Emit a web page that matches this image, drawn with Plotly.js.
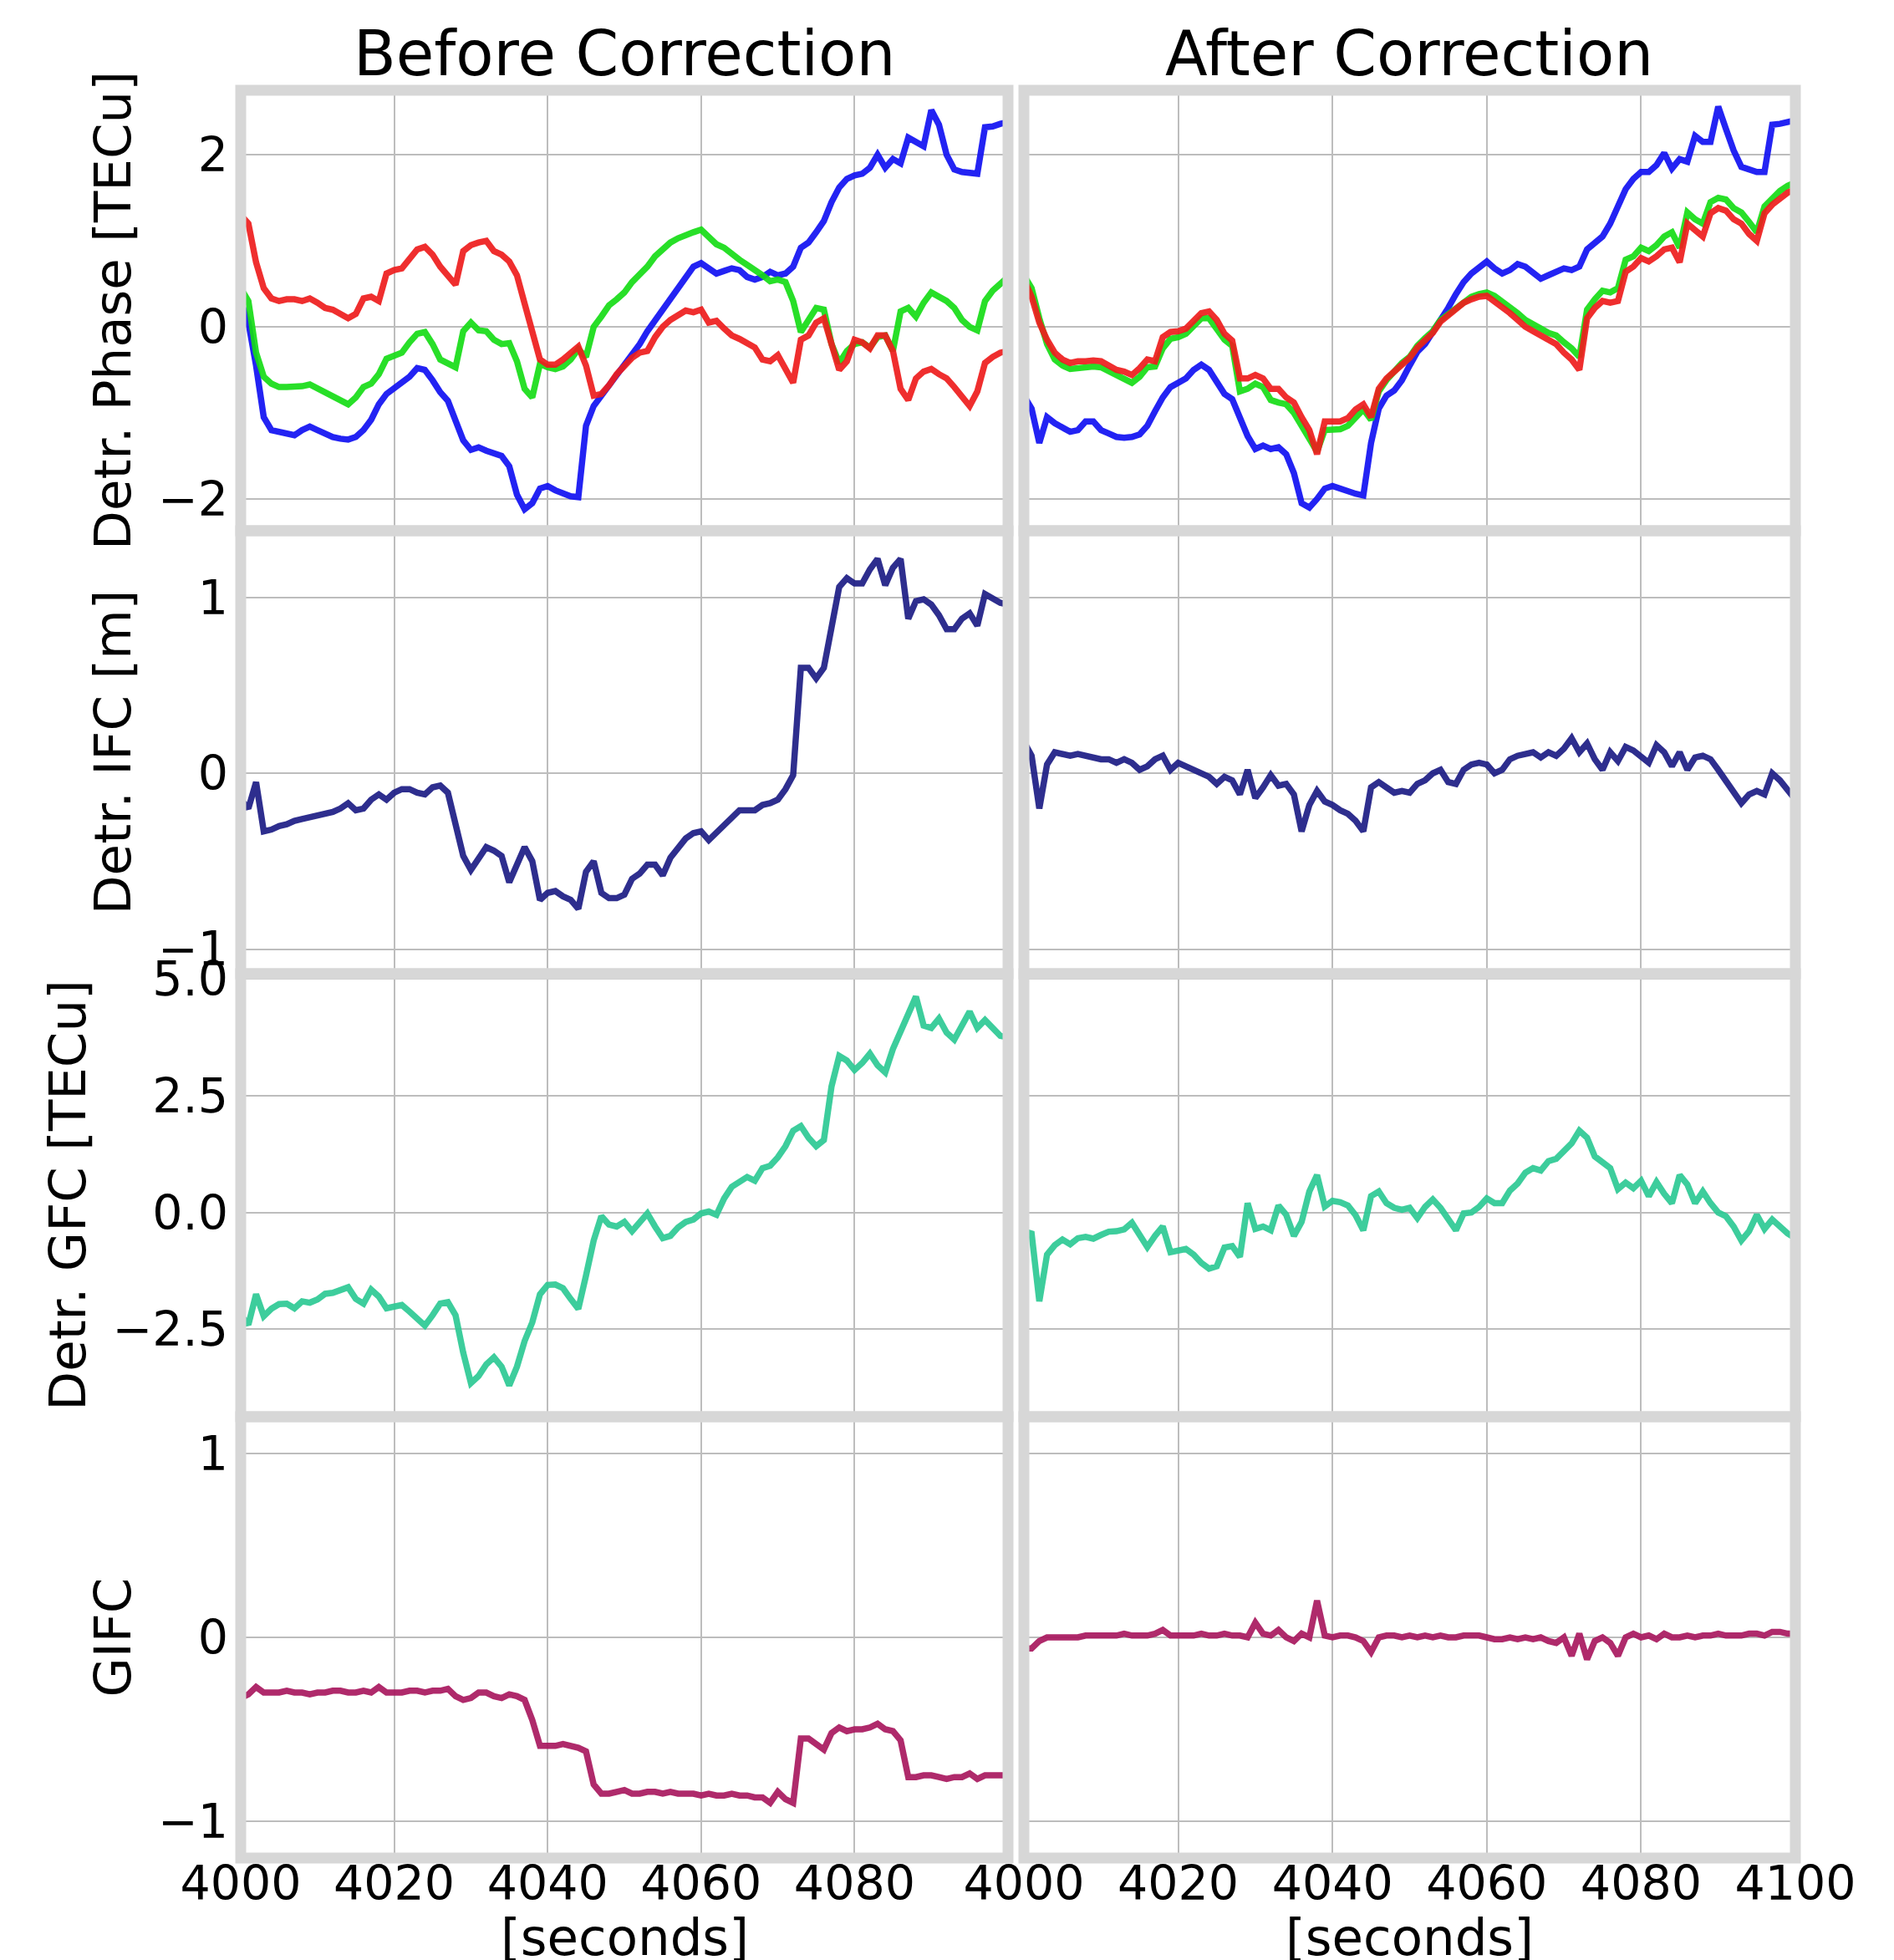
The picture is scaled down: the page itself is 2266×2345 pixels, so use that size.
<!DOCTYPE html>
<html>
<head>
<meta charset="utf-8">
<script src="https://cdn.plot.ly/plotly-3.0.1.min.js"></script>
<style>
  html, body { margin: 0; padding: 0; background: #ffffff; }
  #chart { width: 2266px; height: 2345px; }
</style>
</head>
<body>
<div id="chart"></div>
<script>
// Sampling: one value per second, starting at t = 4000 s.
const timeStart = 4000;
const timeStep = 1;

// Tick marks
const timeTicks = [4000, 4020, 4040, 4060, 4080, 4100];
const timeTickLabelsLeft = ['4000', '4020', '4040', '4060', '4080', ''];
const timeTickLabelsRight = ['4000', '4020', '4040', '4060', '4080', '4100'];
const phaseTicks = [-2, 0, 2];
const ifcTicks = [-1, 0, 1];
const gfcTicks = [-2.5, 0, 2.5, 5];
const gifcTicks = [-1, 0, 1];

// Detrended carrier phase [TECu], before correction
const phaseBeforeBlue = [
  0.3, 0.05, -0.45, -1.05, -1.2, -1.22, -1.25, -1.26, -1.2, -1.16,
  -1.2, -1.24, -1.28, -1.3, -1.31, -1.28, -1.2, -1.08, -0.9, -0.78,
  -0.72, -0.66, -0.58, -0.48, -0.5, -0.62, -0.76, -0.86, -1.1, -1.32,
  -1.43, -1.4, -1.44, -1.47, -1.5, -1.62, -1.95, -2.12, -2.05, -1.88,
  -1.85, -1.9, -1.93, -1.97, -1.98, -1.15, -0.92, -0.8, -0.7, -0.57,
  -0.45, -0.33, -0.2, -0.05, 0.08, 0.2, 0.32, 0.45, 0.6, 0.7,
  0.74, 0.68, 0.62, 0.65, 0.68, 0.66, 0.58, 0.55, 0.58, 0.64,
  0.6, 0.62, 0.7, 0.92, 0.98, 1.1, 1.23, 1.45, 1.62, 1.72,
  1.76, 1.78, 1.85, 2.0, 1.85, 1.95, 1.9, 2.2, 2.15, 2.1,
  2.52, 2.35, 2.0, 1.83, 1.8, 1.79, 1.78, 2.32, 2.33, 2.36,
  2.38
];
const phaseBeforeGreen = [
  0.45, 0.3, -0.3, -0.58, -0.66, -0.7, -0.7, -0.7, -0.69, -0.67,
  -0.72, -0.76, -0.8, -0.85, -0.9, -0.82, -0.7, -0.66, -0.55, -0.37,
  -0.33, -0.3, -0.18, -0.08, -0.06, -0.2, -0.38, -0.43, -0.47, -0.05,
  0.05, -0.04, -0.05, -0.15, -0.2, -0.19, -0.4, -0.72, -0.82, -0.43,
  -0.47, -0.49, -0.46, -0.38, -0.26, -0.35, 0.0, 0.12, 0.25, 0.32,
  0.4, 0.52, 0.6, 0.7, 0.82, 0.9, 0.98, 1.03, 1.07, 1.1,
  1.13, 1.05, 0.96, 0.92, 0.84, 0.78, 0.72, 0.67, 0.6, 0.53,
  0.55, 0.52, 0.3, -0.06, 0.08, 0.22, 0.2, -0.2, -0.42, -0.28,
  -0.2, -0.18, -0.24, -0.12, -0.1, -0.28, 0.18, 0.22, 0.12, 0.28,
  0.4, 0.35, 0.3, 0.22, 0.08, 0.0, -0.04, 0.3, 0.42, 0.5,
  0.58
];
const phaseBeforeRed = [
  1.3, 1.2, 0.75, 0.45, 0.33, 0.3, 0.32, 0.32, 0.3, 0.33,
  0.28, 0.22, 0.2, 0.16, 0.1, 0.15, 0.33, 0.35, 0.3, 0.62,
  0.66, 0.68, 0.78, 0.9, 0.93, 0.84, 0.7, 0.58, 0.49, 0.88,
  0.95, 0.98, 1.0, 0.88, 0.84, 0.76, 0.6, 0.27, -0.05, -0.38,
  -0.44, -0.44, -0.38, -0.3, -0.23, -0.45, -0.8, -0.78, -0.68, -0.55,
  -0.45, -0.36, -0.3, -0.28, -0.12, 0.0, 0.08, 0.14, 0.19, 0.17,
  0.2, 0.05, 0.07, -0.02, -0.1, -0.14, -0.2, -0.24, -0.38, -0.4,
  -0.33, -0.48, -0.65, -0.15, -0.1, 0.05, 0.1, -0.2, -0.5, -0.4,
  -0.15, -0.18, -0.25, -0.1, -0.1, -0.28, -0.72, -0.85, -0.6, -0.52,
  -0.49, -0.55, -0.6, -0.7, -0.8, -0.92, -0.75, -0.42, -0.35, -0.3,
  -0.28
];

// Detrended carrier phase [TECu], after correction
const phaseAfterBlue = [
  -0.8, -0.95, -1.35, -1.05, -1.12, -1.18, -1.22, -1.2, -1.1, -1.1,
  -1.2, -1.24, -1.28, -1.29, -1.28, -1.25, -1.15, -0.98, -0.82, -0.7,
  -0.65, -0.6, -0.5, -0.44, -0.5, -0.65, -0.78, -0.84, -1.05, -1.27,
  -1.42, -1.38, -1.42, -1.4, -1.48, -1.7, -2.05, -2.1, -2.0, -1.88,
  -1.85, -1.88, -1.92, -1.94, -1.96, -1.35, -0.95, -0.8, -0.74, -0.62,
  -0.45, -0.29, -0.2, -0.06, 0.05, 0.22, 0.38, 0.52, 0.62, 0.7,
  0.76, 0.68, 0.62, 0.66, 0.73, 0.7, 0.63, 0.56, 0.6, 0.65,
  0.68, 0.66, 0.7, 0.9, 0.97, 1.05, 1.2, 1.4, 1.6, 1.72,
  1.8, 1.8, 1.88, 2.02, 1.84, 1.95, 1.92, 2.22, 2.15, 2.15,
  2.56, 2.3, 2.05, 1.86, 1.82, 1.8, 1.8, 2.35, 2.36, 2.38,
  2.4
];
const phaseAfterGreen = [
  0.6, 0.45, 0.1, -0.2, -0.38, -0.45, -0.49, -0.48, -0.46, -0.46,
  -0.47, -0.52, -0.57, -0.6, -0.65, -0.58, -0.47, -0.46, -0.25, -0.14,
  -0.12, -0.08, 0.0, 0.1, 0.1, -0.02, -0.15, -0.22, -0.75, -0.72,
  -0.66, -0.7, -0.85, -0.88, -0.9, -1.0, -1.15, -1.3, -1.45, -1.2,
  -1.2, -1.19, -1.15, -1.05, -0.96, -1.08, -0.75, -0.62, -0.52, -0.42,
  -0.35, -0.22, -0.13, -0.05, 0.08, 0.15, 0.22, 0.3, 0.35, 0.38,
  0.4, 0.36, 0.3, 0.24, 0.16, 0.08, 0.02, -0.02, -0.07, -0.1,
  -0.18, -0.25, -0.35, 0.2, 0.32, 0.42, 0.4, 0.45, 0.78, 0.82,
  0.92, 0.88, 0.95, 1.05, 1.1, 0.92, 1.33, 1.25, 1.2, 1.45,
  1.5, 1.48, 1.38, 1.33, 1.22, 1.1, 1.4, 1.5, 1.58, 1.64,
  1.68
];
const phaseAfterRed = [
  0.55, 0.35, 0.05, -0.15, -0.3, -0.38, -0.42, -0.4, -0.4, -0.39,
  -0.4, -0.45, -0.5, -0.52, -0.56, -0.48, -0.38, -0.4, -0.12, -0.06,
  -0.05, -0.02, 0.06, 0.16, 0.18, 0.08, -0.08, -0.16, -0.6, -0.6,
  -0.56, -0.6, -0.72, -0.72, -0.82, -0.88, -1.05, -1.2, -1.48, -1.1,
  -1.1, -1.1, -1.06, -0.96, -0.9, -1.05, -0.72, -0.6, -0.52, -0.44,
  -0.36, -0.24, -0.15, -0.07, 0.06, 0.14, 0.2, 0.28, 0.32, 0.35,
  0.36, 0.3, 0.22, 0.16, 0.08, 0.0, -0.05, -0.1, -0.14, -0.2,
  -0.3, -0.38, -0.5, 0.1, 0.22, 0.3, 0.28, 0.3, 0.64, 0.7,
  0.8, 0.76, 0.82, 0.9, 0.92, 0.75, 1.2, 1.12, 1.05, 1.32,
  1.38, 1.35, 1.25, 1.2, 1.08, 1.0, 1.32, 1.42, 1.5, 1.56,
  1.6
];

// Detrended ionosphere-free combination [m]
const ifcBefore = [
  -0.15, -0.2, -0.05, -0.33, -0.32, -0.3, -0.29, -0.27, -0.26, -0.25,
  -0.24, -0.23, -0.22, -0.2, -0.17, -0.21, -0.2, -0.15, -0.12, -0.15,
  -0.11, -0.09, -0.09, -0.11, -0.12, -0.08, -0.07, -0.11, -0.28, -0.47,
  -0.55, -0.48, -0.42, -0.44, -0.47, -0.62, -0.52, -0.42, -0.5, -0.72,
  -0.68, -0.67, -0.7, -0.72, -0.77, -0.56, -0.5, -0.68, -0.71, -0.71,
  -0.69, -0.6, -0.57, -0.52, -0.52, -0.58, -0.48, -0.42, -0.37, -0.34,
  -0.33, -0.38, -0.34, -0.3, -0.26, -0.21, -0.21, -0.21, -0.18, -0.17,
  -0.15, -0.09, -0.01, 0.6, 0.6, 0.54, 0.6, 0.82, 1.06, 1.11,
  1.08, 1.08, 1.16, 1.22, 1.07, 1.17, 1.22, 0.88, 0.98, 0.99,
  0.96, 0.9, 0.82, 0.82, 0.88, 0.91, 0.84, 1.02, 0.99, 0.97,
  0.96
];
const ifcAfter = [
  0.18, 0.1, -0.2, 0.05, 0.12, 0.11, 0.1, 0.11, 0.1, 0.09,
  0.08, 0.08, 0.06, 0.08, 0.06, 0.02, 0.04, 0.08, 0.1, 0.02,
  0.06, 0.04, 0.02, 0.0, -0.02, -0.06, -0.02, -0.04, -0.12, 0.02,
  -0.14, -0.08, -0.01, -0.07, -0.06, -0.12, -0.33, -0.18, -0.1, -0.16,
  -0.18, -0.21, -0.23, -0.27, -0.33, -0.08, -0.05, -0.08, -0.11, -0.1,
  -0.11, -0.06, -0.04, 0.0, 0.02, -0.05, -0.06, 0.02, 0.05, 0.06,
  0.05, 0.0, 0.02, 0.08, 0.1, 0.11, 0.12, 0.09, 0.12, 0.1,
  0.14, 0.2, 0.12, 0.17, 0.08, 0.02, 0.12, 0.07, 0.15, 0.13,
  0.1, 0.06, 0.16, 0.12, 0.04, 0.12, 0.02, 0.09, 0.1, 0.08,
  0.02, -0.04, -0.1, -0.17, -0.12, -0.1, -0.12, 0.0, -0.04, -0.1,
  -0.15
];

// Detrended geometry-free combination [TECu]
const gfcBefore = [
  -2.2, -2.4, -1.75, -2.22, -2.06, -1.96, -1.95, -2.05, -1.9, -1.93,
  -1.86, -1.74, -1.72, -1.66, -1.6, -1.85, -1.95, -1.65, -1.8, -2.05,
  -2.0, -1.98, -2.12, -2.28, -2.42, -2.2, -1.95, -1.92, -2.2, -3.0,
  -3.65, -3.5, -3.25, -3.1, -3.3, -3.7, -3.3, -2.75, -2.35, -1.75,
  -1.55, -1.54, -1.62, -1.85, -2.06, -1.35, -0.6, -0.08, -0.26, -0.3,
  -0.2, -0.4, -0.22, -0.02, -0.3, -0.55, -0.5, -0.32, -0.2, -0.15,
  -0.02, 0.02, -0.05, 0.3, 0.55, 0.66, 0.76, 0.68, 0.95, 1.0,
  1.18, 1.42, 1.75, 1.85, 1.6, 1.42, 1.55, 2.7, 3.35, 3.25,
  3.05, 3.2, 3.4, 3.15, 3.0, 3.5, 3.85, 4.2, 4.62, 4.0,
  3.95, 4.15, 3.85, 3.7, 4.0, 4.3, 3.95, 4.12, 3.95, 3.78,
  3.75
];
const gfcAfter = [
  -0.4, -0.45, -1.9, -0.9, -0.7, -0.58, -0.68, -0.55, -0.52, -0.56,
  -0.48, -0.41, -0.4, -0.36, -0.22, -0.5, -0.74, -0.5, -0.3, -0.85,
  -0.8, -0.78, -0.9, -1.08, -1.2, -1.15, -0.75, -0.72, -0.95, 0.2,
  -0.35, -0.3, -0.38, 0.15, -0.05, -0.5, -0.2, 0.45, 0.8, 0.13,
  0.25, 0.22, 0.15, -0.06, -0.38, 0.35, 0.45, 0.2, 0.1, 0.06,
  0.1, -0.12, 0.12, 0.28, 0.1, -0.15, -0.38, -0.02, 0.0, 0.12,
  0.3, 0.2, 0.2, 0.47, 0.62, 0.85, 0.95, 0.9, 1.1, 1.15,
  1.3, 1.48, 1.75, 1.6, 1.2, 1.08, 0.95, 0.5, 0.64, 0.52,
  0.68, 0.35, 0.65, 0.4, 0.2, 0.8, 0.6, 0.2, 0.45, 0.2,
  0.0, -0.08, -0.3, -0.6, -0.4, -0.05, -0.35, -0.15, -0.3, -0.45,
  -0.55
];

// Geometry- and ionosphere-free combination
const gifcBefore = [
  -0.33, -0.31, -0.27, -0.3, -0.3, -0.3, -0.29, -0.3, -0.3, -0.31,
  -0.3, -0.3, -0.29, -0.29, -0.3, -0.3, -0.29, -0.3, -0.27, -0.3,
  -0.3, -0.3, -0.29, -0.29, -0.3, -0.29, -0.29, -0.28, -0.32, -0.34,
  -0.33, -0.3, -0.3, -0.32, -0.33, -0.31, -0.32, -0.34, -0.45, -0.59,
  -0.59, -0.59, -0.58, -0.59, -0.6, -0.62, -0.8, -0.85, -0.85, -0.84,
  -0.83, -0.85, -0.85, -0.84, -0.84, -0.85, -0.84, -0.85, -0.85, -0.85,
  -0.86, -0.85, -0.86, -0.86, -0.85, -0.86, -0.86, -0.87, -0.87, -0.9,
  -0.84, -0.88, -0.9, -0.55, -0.55, -0.58, -0.61, -0.52, -0.49, -0.51,
  -0.5, -0.5, -0.49, -0.47, -0.5, -0.51, -0.56, -0.76, -0.76, -0.75,
  -0.75, -0.76, -0.77, -0.76, -0.76, -0.74, -0.77, -0.75, -0.75, -0.75,
  -0.75
];
const gifcAfter = [
  -0.06, -0.06, -0.02, 0.0, 0.0, 0.0, 0.0, 0.0, 0.01, 0.01,
  0.01, 0.01, 0.01, 0.02, 0.01, 0.01, 0.01, 0.02, 0.04, 0.01,
  0.01, 0.01, 0.01, 0.02, 0.01, 0.01, 0.02, 0.01, 0.01, 0.0,
  0.08, 0.02, 0.01, 0.04, 0.0, -0.02, 0.02, 0.0, 0.2, 0.01,
  0.0, 0.01, 0.01, 0.0, -0.02, -0.08, 0.0, 0.01, 0.01, 0.0,
  0.01, 0.0, 0.01, 0.0, 0.01, 0.0, 0.0, 0.01, 0.01, 0.01,
  0.0, -0.01, -0.01, 0.0, -0.01, 0.0, -0.01, 0.0, -0.02, -0.03,
  0.0, -0.1, 0.02, -0.12, -0.02, 0.0, -0.03, -0.1, 0.0, 0.02,
  0.0, 0.01, -0.01, 0.02, 0.0, 0.0, 0.01, 0.0, 0.01, 0.01,
  0.02, 0.01, 0.01, 0.01, 0.02, 0.02, 0.01, 0.03, 0.03, 0.02,
  0.02
];

// ---- styling ----
const FONT = 'DejaVu Sans';
const FRAME_COLOR = '#d7d7d7';
const GRID_COLOR = '#bdbdbd';
const LINE_W = 7.5;
const TICK_SIZE = 57;
const LABEL_SIZE = 61;
const TITLE_SIZE = 74;
const COLORS = {
  blue: '#1010f2', green: '#16dc16', red: '#ee1c1c',
  ifc: '#1c1c84', gfc: '#2cc994', gifc: '#a8185e'
};

// Plot-area column / row domains (fractions of the area inside the margins)
const colDomains = [[0, 0.49355], [0.50376, 1]];
const rowDomains = [[0.75083, 1], [0.50024, 0.75083], [0.24965, 0.50024], [0, 0.24965]];

const rowSpecs = [
  { title: 'Detr. Phase [TECu]', range: [-2.37, 2.75], ticks: phaseTicks, fmt: '',
    before: [[phaseBeforeBlue, COLORS.blue], [phaseBeforeGreen, COLORS.green], [phaseBeforeRed, COLORS.red]],
    after:  [[phaseAfterBlue, COLORS.blue], [phaseAfterGreen, COLORS.green], [phaseAfterRed, COLORS.red]] },
  { title: 'Detr. IFC [m]', range: [-1.14, 1.38], ticks: ifcTicks, fmt: '',
    before: [[ifcBefore, COLORS.ifc]], after: [[ifcAfter, COLORS.ifc]] },
  { title: 'Detr. GFC [TECu]', range: [-4.37, 5.11], ticks: gfcTicks, fmt: '.1f',
    before: [[gfcBefore, COLORS.gfc]], after: [[gfcAfter, COLORS.gfc]] },
  { title: 'GIFC', range: [-1.2, 1.2], ticks: gifcTicks, fmt: '',
    before: [[gifcBefore, COLORS.gifc]], after: [[gifcAfter, COLORS.gifc]] }
];

function textNote(text, x, y, size) {
  return { text: text, xref: 'paper', yref: 'paper', x: x, y: y,
           xanchor: 'center', yanchor: 'middle', showarrow: false,
           font: { family: FONT, size: size, color: '#000000' } };
}
const colCenters = colDomains.map(d => (d[0] + d[1]) / 2);

const traces = [];
const shapes = [];
const layout = {
  width: 2266,
  height: 2345,
  margin: { l: 288, r: 118, t: 108, b: 122, pad: 0 },
  paper_bgcolor: '#ffffff',
  plot_bgcolor: '#ffffff',
  showlegend: false,
  font: { family: FONT, color: '#000000', size: TICK_SIZE },
  annotations: [
    // column headings
    textNote('Before Correction', colCenters[0], 1.0208, TITLE_SIZE),
    textNote('After Correction', colCenters[1], 1.0208, TITLE_SIZE),
    // time-axis labels under each column
    textNote('[seconds]', colCenters[0], -0.0449, LABEL_SIZE),
    textNote('[seconds]', colCenters[1], -0.0449, LABEL_SIZE)
  ]
};

rowSpecs.forEach((row, r) => {
  [0, 1].forEach(c => {
    const idx = r * 2 + c + 1;
    const xName = idx === 1 ? 'x' : 'x' + idx;
    const yName = idx === 1 ? 'y' : 'y' + idx;
    const bottom = r === rowSpecs.length - 1;

    const xaxis = {
      domain: colDomains[c],
      anchor: yName,
      range: [4000, 4100],
      tickmode: 'array',
      tickvals: timeTicks,
      ticktext: c === 0 ? timeTickLabelsLeft : timeTickLabelsRight,
      showticklabels: bottom,
      ticks: '',
      ticklabelstandoff: -8,
      tickfont: { family: FONT, size: TICK_SIZE, color: '#000000' },
      showgrid: true, gridcolor: GRID_COLOR, gridwidth: 2,
      zeroline: false, showline: false, fixedrange: true
    };
    const yaxis = {
      domain: rowDomains[r],
      anchor: xName,
      range: row.range,
      tickmode: 'array',
      tickvals: row.ticks,
      tickformat: row.fmt,
      showticklabels: c === 0,
      ticks: '',
      ticklabelstandoff: 14,
      tickfont: { family: FONT, size: TICK_SIZE, color: '#000000' },
      showgrid: true, gridcolor: GRID_COLOR, gridwidth: 2,
      zeroline: false, showline: false, fixedrange: true
    };
    if (c === 0) {
      yaxis.title = { text: row.title, standoff: 12,
                      font: { family: FONT, size: LABEL_SIZE, color: '#000000' } };
    }
    layout[idx === 1 ? 'xaxis' : 'xaxis' + idx] = xaxis;
    layout[idx === 1 ? 'yaxis' : 'yaxis' + idx] = yaxis;

    const series = c === 0 ? row.before : row.after;
    series.forEach(([values, color]) => {
      traces.push({
        type: 'scatter', mode: 'lines',
        x0: timeStart, dx: timeStep, y: values,
        xaxis: xName, yaxis: yName,
        line: { color: color, width: LINE_W },
        opacity: 0.92,
        hoverinfo: 'skip'
      });
    });

    // thick light-grey panel frame
    shapes.push({
      type: 'rect', xref: 'paper', yref: 'paper', layer: 'above',
      x0: colDomains[c][0], x1: colDomains[c][1],
      y0: rowDomains[r][0], y1: rowDomains[r][1],
      line: { color: FRAME_COLOR, width: 13 }, fillcolor: 'rgba(0,0,0,0)'
    });
  });
});
layout.shapes = shapes;

Plotly.newPlot('chart', traces, layout, { staticPlot: true, displayModeBar: false });
</script>
</body>
</html>
